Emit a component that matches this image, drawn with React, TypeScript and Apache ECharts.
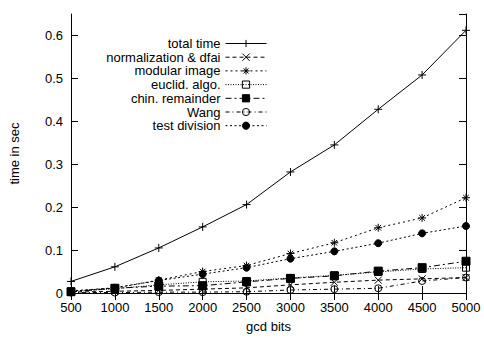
import React, { useEffect, useRef } from "react";
import * as echarts from "echarts";

const bits = [500, 1000, 1500, 2000, 2500, 3000, 3500, 4000, 4500, 5000];
const totalTime = [0.027, 0.061, 0.105, 0.154, 0.206, 0.282, 0.345, 0.428, 0.508, 0.612];
const normalization = [0.002, 0.004, 0.006, 0.009, 0.012, 0.019, 0.025, 0.030, 0.033, 0.036];
const modularImage = [0.005, 0.012, 0.030, 0.050, 0.064, 0.092, 0.117, 0.152, 0.175, 0.222];
const euclid = [0.003, 0.010, 0.019, 0.026, 0.028, 0.035, 0.041, 0.049, 0.056, 0.059];
const chinRemainder = [0.003, 0.011, 0.016, 0.017, 0.026, 0.034, 0.040, 0.051, 0.059, 0.074];
const wang = [0.001, 0.001, 0.002, 0.002, 0.003, 0.007, 0.009, 0.011, 0.028, 0.036];
const testDivision = [0.004, 0.012, 0.029, 0.044, 0.059, 0.080, 0.097, 0.116, 0.139, 0.156];

const FONT = "'Liberation Sans', Arial, Helvetica, sans-serif";

const PLUS = "path://M0,5L10,5M5,0L5,10";
const CROSS = "path://M0,0L10,10M10,0L0,10";
const STAR = "path://M0,5L10,5M5,0L5,10M1.5,1.5L8.5,8.5M8.5,1.5L1.5,8.5";
const OPEN_SQUARE = "path://M0,0L10,0L10,10L0,10Z";
const OPEN_CIRCLE = "path://M5,0A5,5 0 1 1 5,10A5,5 0 1 1 5,0Z";

const seriesDefs = [
  { name: "total time", values: totalTime, symbol: PLUS, size: 8, dash: "solid" as any, fill: "#000" },
  { name: "normalization & dfai", values: normalization, symbol: CROSS, size: 7, dash: [4, 3], fill: "#000" },
  { name: "modular image", values: modularImage, symbol: STAR, size: 8, dash: [2, 3], fill: "#000" },
  { name: "euclid. algo.", values: euclid, symbol: OPEN_SQUARE, size: 7, dash: [1, 1.5], fill: "rgba(0,0,0,0)" },
  { name: "chin. remainder", values: chinRemainder, symbol: "rect", size: 8, dash: [6, 3, 2, 3], fill: "#000" },
  { name: "Wang", values: wang, symbol: OPEN_CIRCLE, size: 7, dash: [4, 3, 1, 3], fill: "rgba(0,0,0,0)" },
  { name: "test division", values: testDivision, symbol: "circle", size: 7, dash: [2, 2.5], fill: "#000" },
];

export default function App() {
  const ref = useRef<HTMLDivElement>(null);
  useEffect(() => {
    if (!ref.current) return;
    const chart = echarts.init(ref.current, undefined, { renderer: "svg" });
    const axisCommon = {
      axisLine: { show: true, lineStyle: { color: "#000", width: 1 } },
      axisTick: { show: true, inside: true, length: 7, lineStyle: { color: "#000" } },
      splitLine: { show: false },
    };
    chart.setOption({
      animation: false,
      backgroundColor: "#fff",
      textStyle: { fontFamily: FONT },
      grid: { left: 70, right: 18, top: 14, bottom: 40, containLabel: false },
      legend: {
        orient: "vertical",
        align: "right",
        right: 217,
        top: 37,
        padding: 0,
        itemWidth: 41,
        itemHeight: 9,
        itemGap: 0.7,
        itemStyle: { borderWidth: 1 },
        lineStyle: { width: 1 },
        textStyle: { fontFamily: FONT, fontSize: 13, color: "#000" },
        data: seriesDefs.map((s) => s.name),
      },
      xAxis: [
        {
          type: "value",
          min: 500,
          max: 5000,
          interval: 500,
          position: "bottom",
          name: "gcd bits",
          nameLocation: "middle",
          nameGap: 27,
          nameTextStyle: { fontFamily: FONT, fontSize: 13, color: "#000" },
          axisLabel: {
            color: "#000",
            fontFamily: FONT,
            fontSize: 13,
            margin: 8,
            formatter: (v: number) => String(v),
          },
          ...axisCommon,
        },
        {
          type: "value",
          min: 500,
          max: 5000,
          interval: 500,
          position: "top",
          axisLabel: { show: false },
          ...axisCommon,
        },
      ],
      yAxis: [
        {
          type: "value",
          min: 0,
          max: 0.65,
          interval: 0.1,
          position: "left",
          name: "time in sec",
          nameLocation: "middle",
          nameGap: 50,
          nameTextStyle: { fontFamily: FONT, fontSize: 13, color: "#000" },
          axisLabel: {
            color: "#000",
            fontFamily: FONT,
            fontSize: 13,
            margin: 8,
            showMaxLabel: false,
            formatter: (v: number) => (v > 0.62 ? "" : String(Math.round(v * 10) / 10)),
          },
          ...axisCommon,
        },
        {
          type: "value",
          min: 0,
          max: 0.65,
          interval: 0.1,
          position: "right",
          axisLabel: { show: false },
          ...axisCommon,
        },
      ],
      series: seriesDefs.map((s) => ({
        name: s.name,
        type: "line",
        xAxisIndex: 0,
        yAxisIndex: 0,
        data: bits.map((b, i) => [b, s.values[i]]),
        symbol: s.symbol,
        symbolSize: s.size,
        showSymbol: true,
        lineStyle: { color: "#000", width: 1, type: s.dash },
        itemStyle: { color: s.fill, borderColor: "#000", borderWidth: 1 },
        emphasis: { disabled: true },
      })),
    });
    return () => chart.dispose();
  }, []);
  return (
    <div
      ref={ref}
      style={{ position: "absolute", left: 0, top: 0, width: 484, height: 338 }}
    />
  );
}
